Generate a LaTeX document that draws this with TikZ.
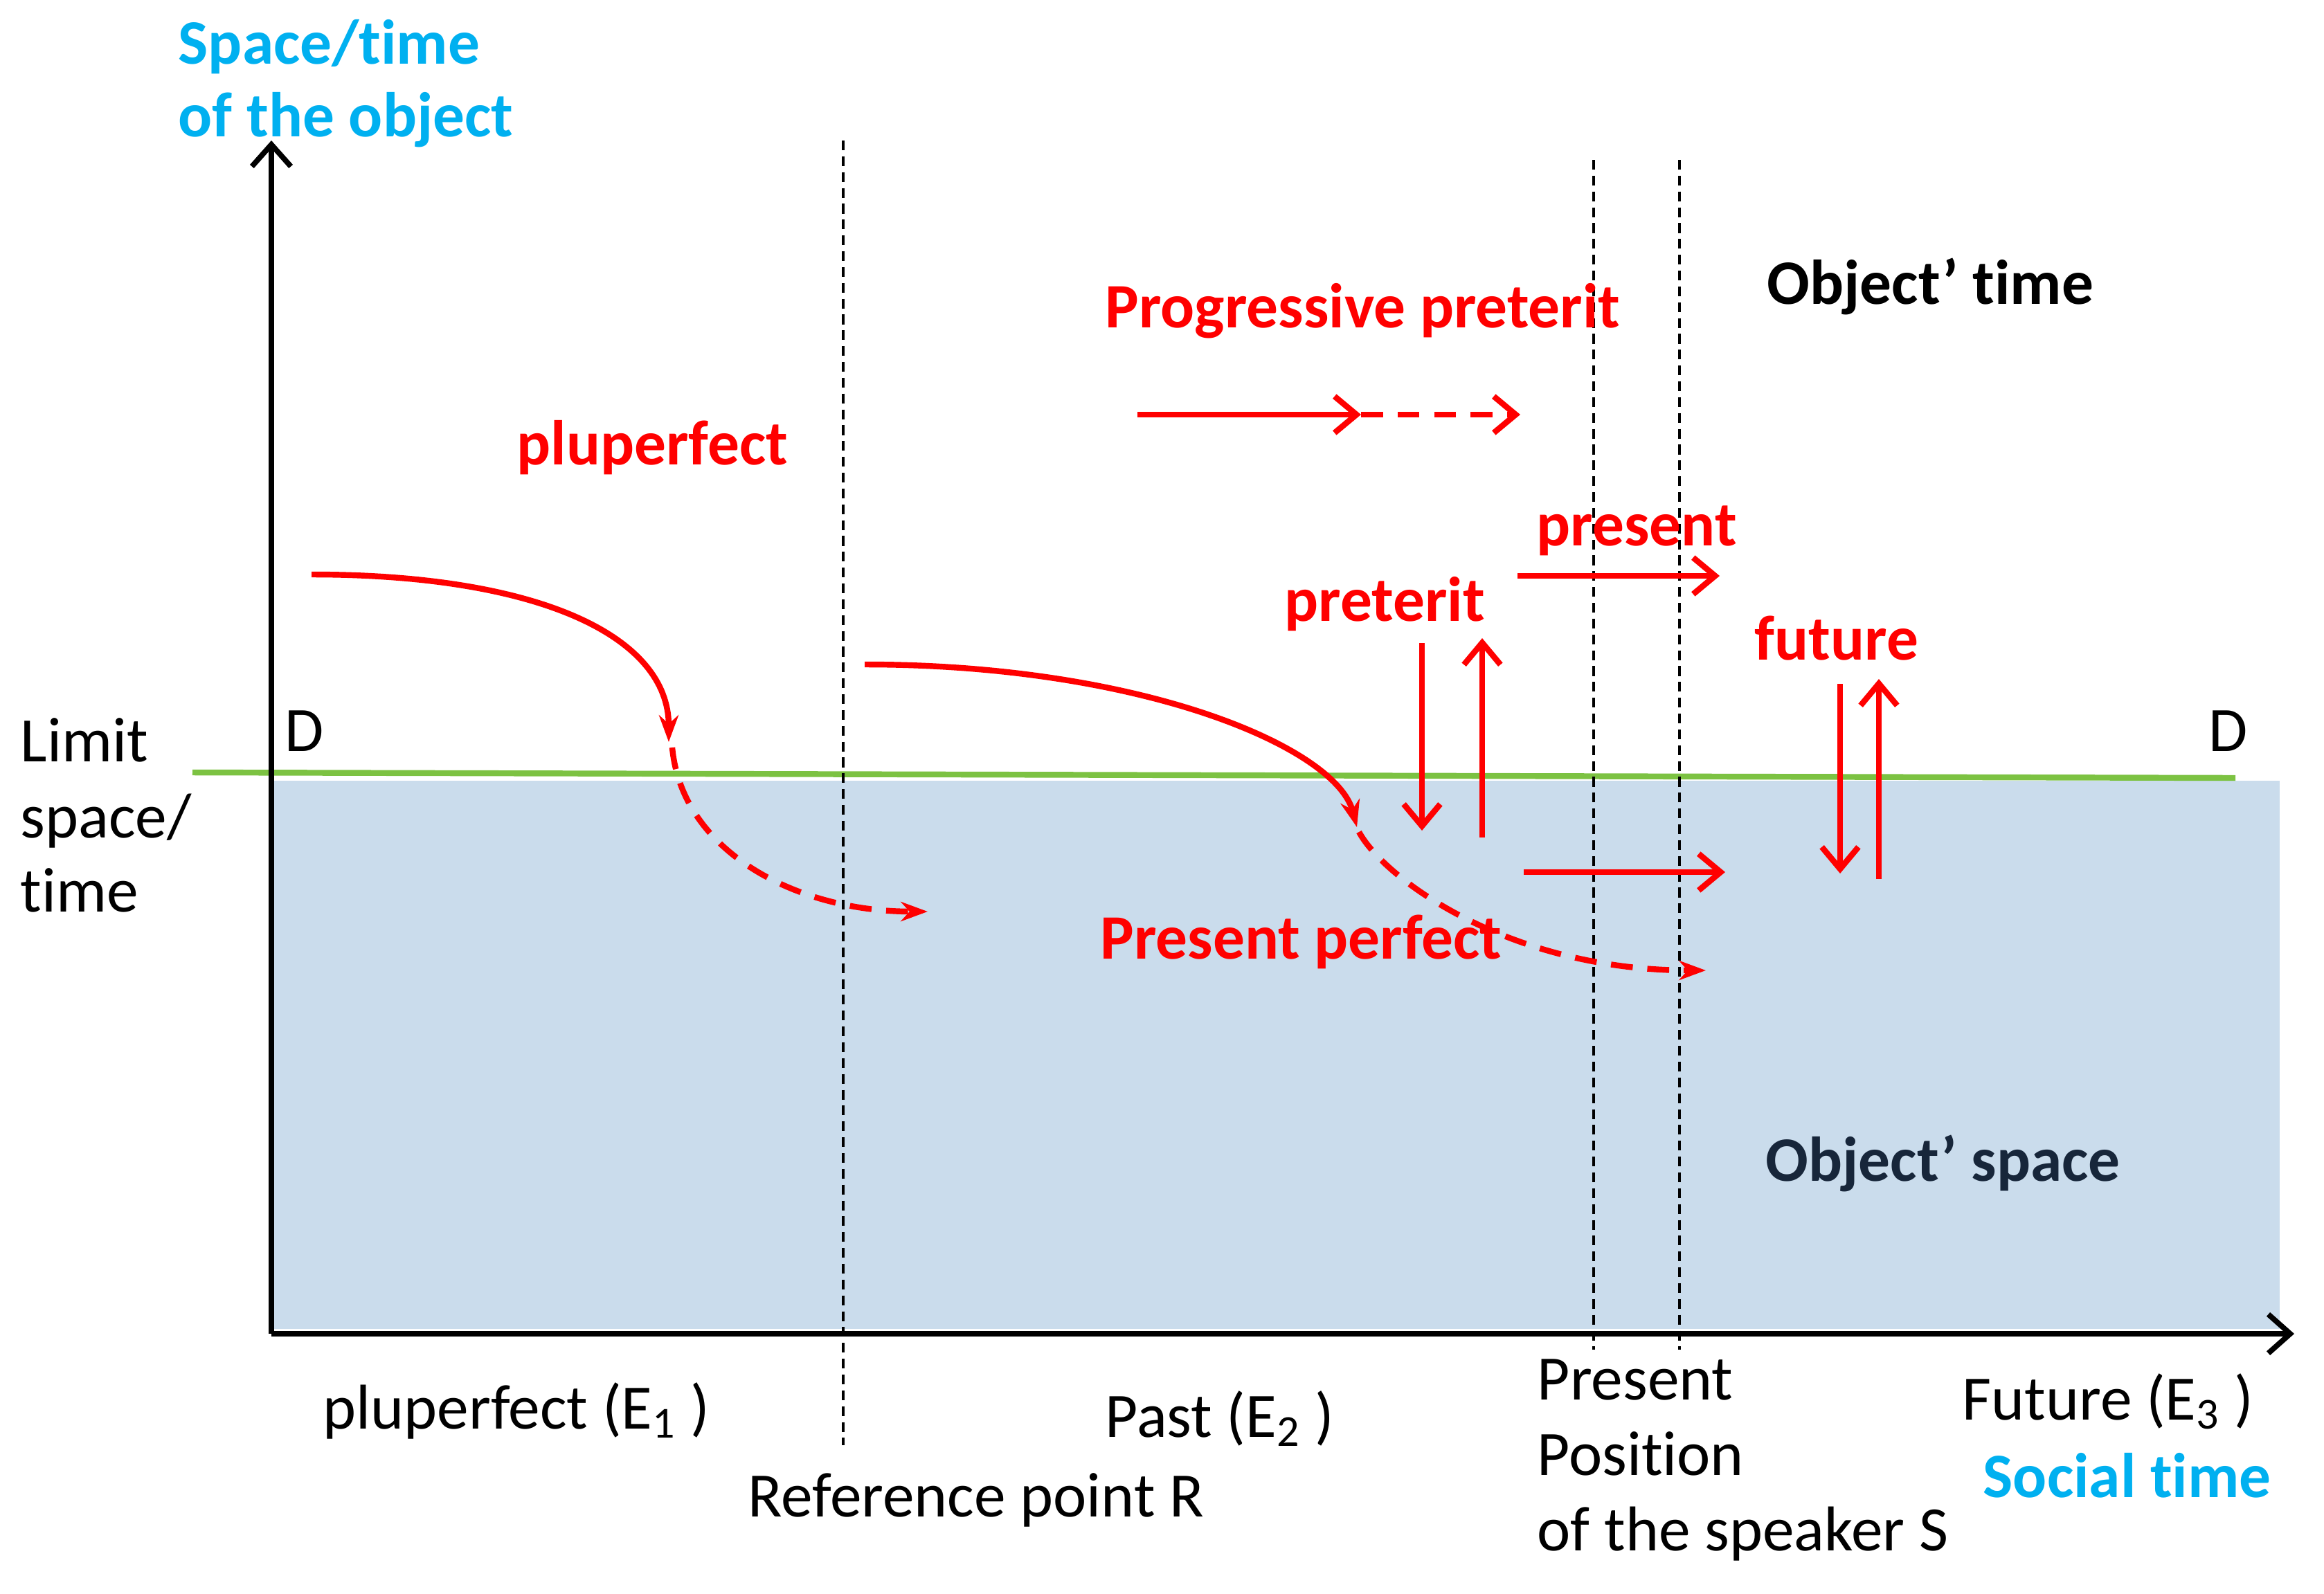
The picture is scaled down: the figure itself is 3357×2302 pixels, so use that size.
\documentclass[tikz,border=0pt]{standalone}
\usepackage{fontspec}
\setmainfont[Ligatures=NoCommon]{Carlito}
\usepackage{tikz}
\usetikzlibrary{arrows.meta}
\definecolor{tred}{HTML}{FF0000}
\definecolor{tcyan}{HTML}{00B0F0}
\definecolor{spacefill}{HTML}{CADCEC}
\definecolor{limgreen}{HTML}{7CC242}
\definecolor{spacenavy}{HTML}{17263A}

\begin{document}
\begin{tikzpicture}[x=0.01cm,y=-0.01cm,
  every node/.style={inner sep=0pt,anchor=base west,font=\fontsize{26}{32}\selectfont},
  tns/.style={text=tred,font=\fontsize{26}{32}\selectfont\bfseries},
  head/.style={text=tcyan,font=\fontsize{26}{32}\selectfont\bfseries},
  zone/.style={font=\fontsize{26}{32}\selectfont\bfseries},
  axis/.style={line width=2.2pt,-{Straight Barb[length=9pt,width=16pt]}},
  guide/.style={line width=1pt,dash pattern=on 4pt off 2.5pt},
  tarr/.style={tred,line width=2.4pt,-{Straight Barb[length=9pt,width=15pt]}},
  tcurve/.style={tred,line width=2.4pt,-{Stealth[length=11pt,width=8pt]}},
  tdash/.style={dash pattern=on 9pt off 6pt}]
  \useasboundingbox (0,0) rectangle (3357,2302);
  \fill[spacefill] (392,1128) rectangle (3293,1920);
  % axes and limit
  \coordinate (o) at (392,1927);
  \coordinate (ytop) at (392,203);
  \coordinate (xend) at (3314,1927);
  \coordinate (limL) at (278,1116);
  \coordinate (limR) at (3229,1124);
  \draw[limgreen,line width=2.4pt] (limL) -- (limR);
  \draw[axis] (o) -- (ytop);
  \draw[axis] (o) -- (xend);
  \foreach \gx/\gt/\gb in {1218/203/2088,2302/231/1950,2426/231/1950}
    \draw[guide] (\gx,\gt) -- (\gx,\gb);
  % tense arrows
  \coordinate (pl0) at (450,830);
  \coordinate (pl1) at (966,1072);
  \coordinate (pl2) at (971,1080);
  \coordinate (pl3) at (1340,1317);
  \draw[tcurve] (pl0) .. controls (780,830) and (966,920) .. (pl1);
  \draw[tcurve,tdash] (pl2) .. controls (985,1230) and (1150,1317) .. (pl3);
  \coordinate (pp0) at (1249,960);
  \coordinate (pp1) at (1960,1195);
  \coordinate (pp2) at (1963,1202);
  \coordinate (pp3) at (2464,1402);
  \draw[tcurve] (pp0) .. controls (1650,960) and (1930,1080) .. (pp1);
  \draw[tcurve,tdash] (pp2) .. controls (2000,1270) and (2180,1402) .. (pp3);
  \coordinate (pg0) at (1643,599);
  \coordinate (pg1) at (1966,599);
  \coordinate (pg2) at (2196,599);
  \draw[tarr] (pg0) -- (pg1);
  \draw[tarr,tdash] (pg1) -- (pg2);
  \coordinate (ps0) at (2192,832);
  \coordinate (ps1) at (2484,832);
  \draw[tarr] (ps0) -- (ps1);
  \coordinate (lw0) at (2201,1260);
  \coordinate (lw1) at (2492,1260);
  \draw[tarr] (lw0) -- (lw1);
  \coordinate (pd0) at (2054,929);
  \coordinate (pd1) at (2054,1200);
  \coordinate (pu0) at (2141,1210);
  \coordinate (pu1) at (2141,922);
  \draw[tarr] (pd0) -- (pd1);
  \draw[tarr] (pu0) -- (pu1);
  \coordinate (fd0) at (2658,988);
  \coordinate (fd1) at (2658,1262);
  \coordinate (fu0) at (2714,1270);
  \coordinate (fu1) at (2714,981);
  \draw[tarr] (fd0) -- (fd1);
  \draw[tarr] (fu0) -- (fu1);
  % labels
  \node[head] (obj1) at (257,92) {Space/time};
  \node[head] (obj2) at (257,197) {of the object};
  \node[zone] (otime) at (2552,439) {Object’ time};
  \node[zone,text=spacenavy] (ospace) at (2550,1706) {Object’ space};
  \node[tns] (prog) at (1596,473) {Progressive preterit};
  \node[tns] (plu) at (746,671) {pluperfect};
  \node[tns] (pres) at (2219,788) {present};
  \node[tns] (pret) at (1855,897) {preterit};
  \node[tns] (fut) at (2534,953) {future};
  \node[tns] (pperf) at (1589,1385) {Present perfect};
  \node (dl) at (411,1085) {D};
  \node (dr) at (3190,1085) {D};
  \node (lim1) at (29,1100) {Limit};
  \node (lim2) at (29,1210) {space/};
  \node (lim3) at (29,1317) {time};
  \node (e1) at (466,2064) {pluperfect (E\textsubscript{1} )};
  \node (e2) at (1596,2076) {Past (E\textsubscript{2} )};
  \node (refr) at (1080,2191) {Reference point R};
  \node (spk1) at (2220,2022) {Present};
  \node (spk2) at (2220,2131) {Position};
  \node (spk3) at (2220,2240) {of the speaker S};
  \node (e3) at (2834,2051) {Future (E\textsubscript{3} )};
  \node[head] (soc) at (2864,2163) {Social time};
\end{tikzpicture}
\end{document}
